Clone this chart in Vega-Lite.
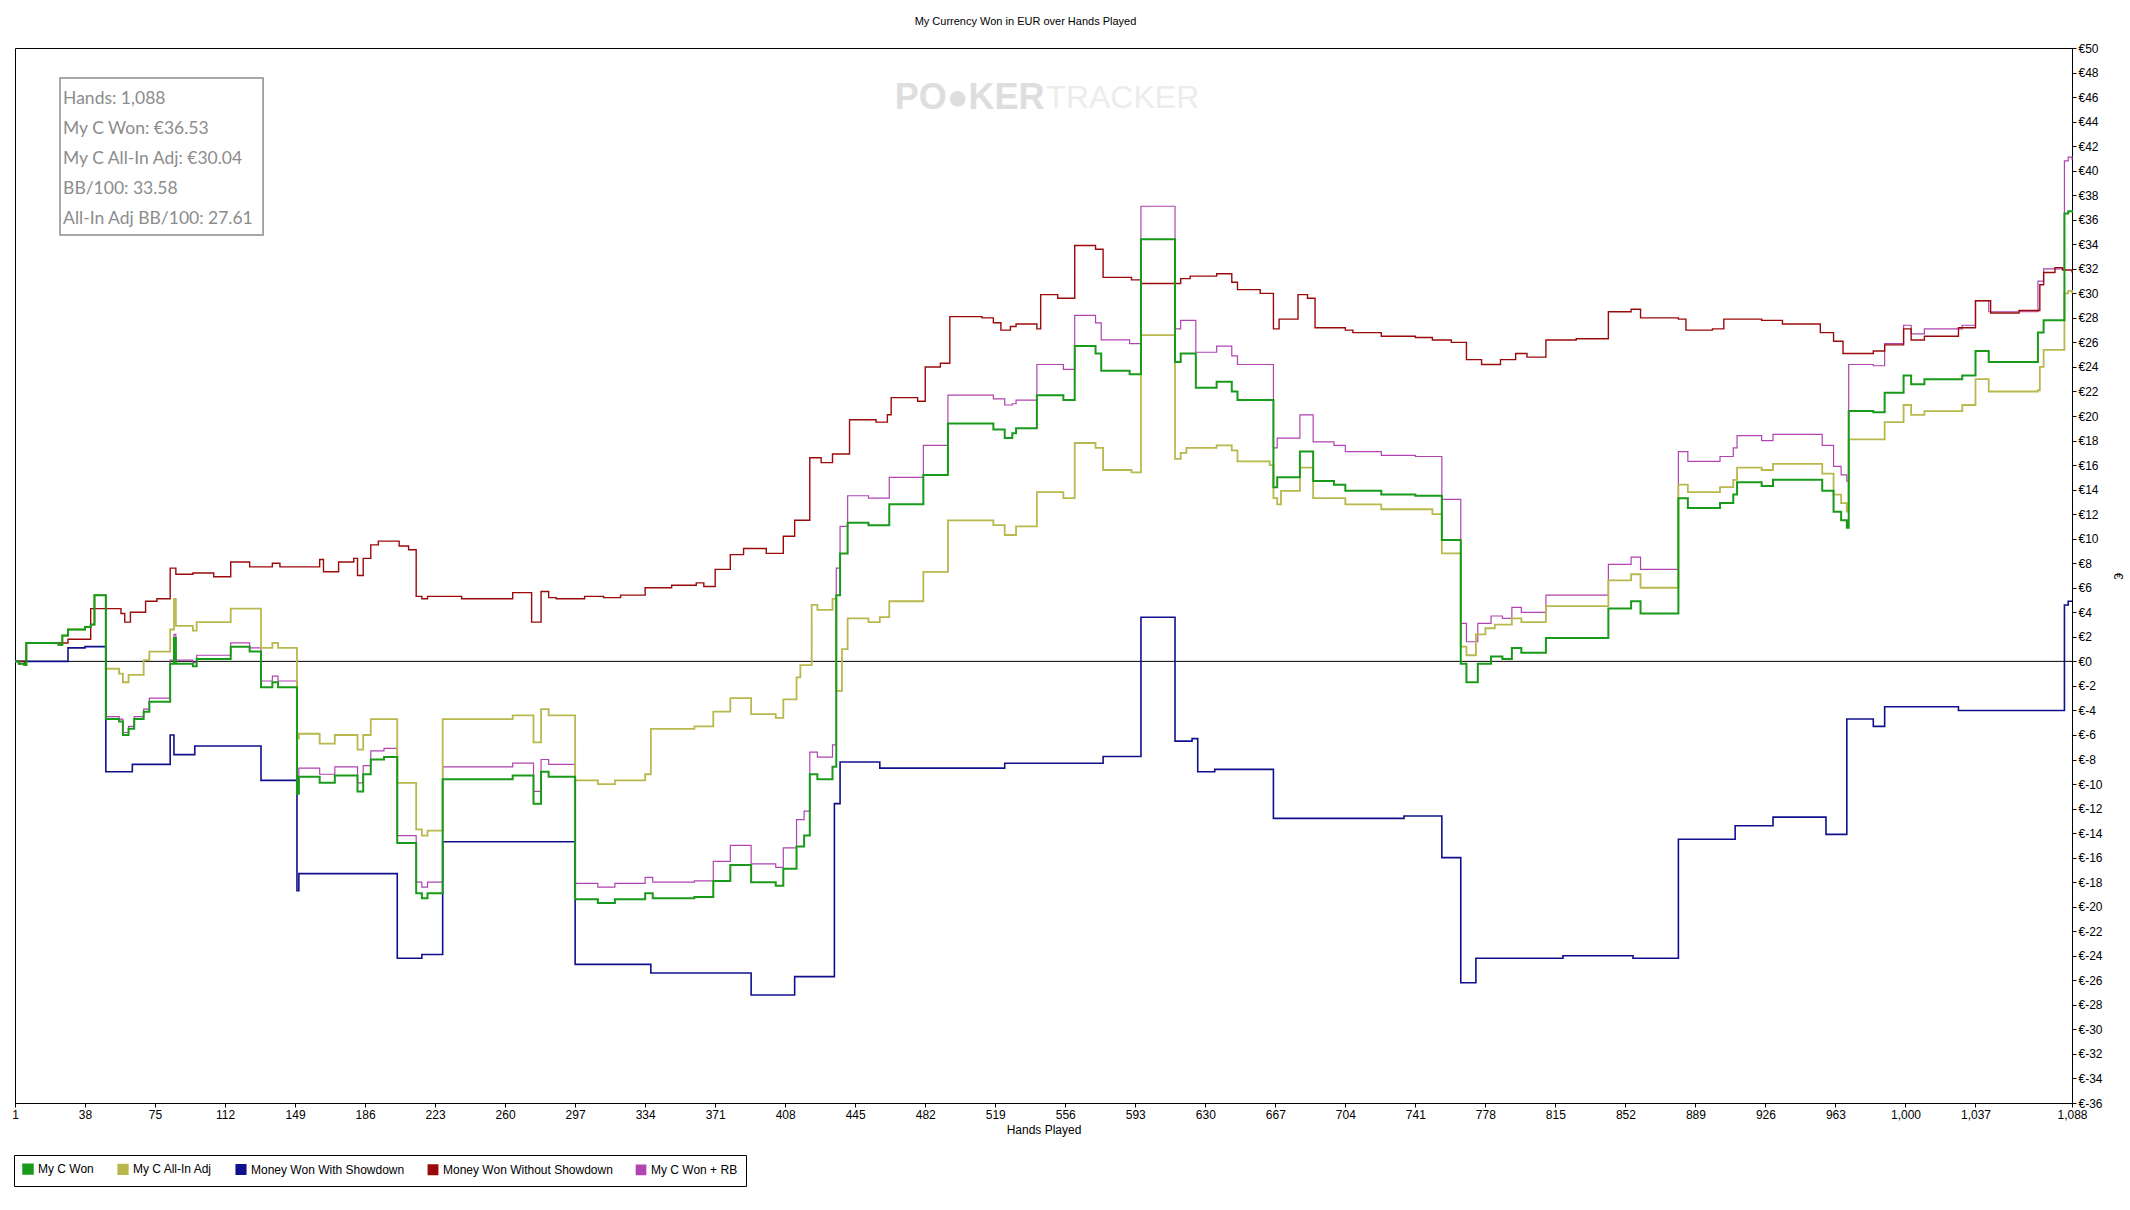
{
  "$schema": "https://vega.github.io/schema/vega-lite/v6.json",
  "width": 2057,
  "height": 1055,
  "autosize": {"type": "none"},
  "padding": {"left": 15, "top": 48, "right": 58, "bottom": 107},
  "background": "#ffffff",
  "title": {
    "text": "My Currency Won in EUR over Hands Played",
    "font": "Liberation Sans",
    "fontSize": 11,
    "fontWeight": "normal",
    "color": "#000000",
    "anchor": "middle",
    "frame": "group",
    "dx": -18,
    "offset": 15
  },
  "datasets": {
    "series": [
      {"series": "My C Won + RB", "hand": 1, "euro": 0},
      {"series": "My C Won + RB", "hand": 3, "euro": -0.2},
      {"series": "My C Won + RB", "hand": 6, "euro": -0.3},
      {"series": "My C Won + RB", "hand": 7, "euro": 1.5},
      {"series": "My C Won + RB", "hand": 24, "euro": 1.35},
      {"series": "My C Won + RB", "hand": 26, "euro": 2.1},
      {"series": "My C Won + RB", "hand": 29, "euro": 2.6},
      {"series": "My C Won + RB", "hand": 38, "euro": 2.8},
      {"series": "My C Won + RB", "hand": 41, "euro": 3.0},
      {"series": "My C Won + RB", "hand": 43, "euro": 5.4},
      {"series": "My C Won + RB", "hand": 49, "euro": -4.5},
      {"series": "My C Won + RB", "hand": 56, "euro": -4.7},
      {"series": "My C Won + RB", "hand": 58, "euro": -5.8},
      {"series": "My C Won + RB", "hand": 61, "euro": -5.3},
      {"series": "My C Won + RB", "hand": 64, "euro": -4.5},
      {"series": "My C Won + RB", "hand": 69, "euro": -3.9},
      {"series": "My C Won + RB", "hand": 72, "euro": -3.0},
      {"series": "My C Won + RB", "hand": 83, "euro": 0.1},
      {"series": "My C Won + RB", "hand": 85, "euro": 2.2},
      {"series": "My C Won + RB", "hand": 86, "euro": 0.1},
      {"series": "My C Won + RB", "hand": 95, "euro": -0.1},
      {"series": "My C Won + RB", "hand": 97, "euro": 0.5},
      {"series": "My C Won + RB", "hand": 115, "euro": 1.5},
      {"series": "My C Won + RB", "hand": 125, "euro": 1.1},
      {"series": "My C Won + RB", "hand": 131, "euro": -1.6},
      {"series": "My C Won + RB", "hand": 137, "euro": -1.2},
      {"series": "My C Won + RB", "hand": 140, "euro": -1.6},
      {"series": "My C Won + RB", "hand": 150, "euro": -10.2},
      {"series": "My C Won + RB", "hand": 151, "euro": -8.7},
      {"series": "My C Won + RB", "hand": 162, "euro": -9.2},
      {"series": "My C Won + RB", "hand": 170, "euro": -8.6},
      {"series": "My C Won + RB", "hand": 182, "euro": -9.9},
      {"series": "My C Won + RB", "hand": 185, "euro": -8.5},
      {"series": "My C Won + RB", "hand": 189, "euro": -7.3},
      {"series": "My C Won + RB", "hand": 196, "euro": -7.1},
      {"series": "My C Won + RB", "hand": 203, "euro": -14.2},
      {"series": "My C Won + RB", "hand": 213, "euro": -18.0},
      {"series": "My C Won + RB", "hand": 216, "euro": -18.4},
      {"series": "My C Won + RB", "hand": 219, "euro": -18.0},
      {"series": "My C Won + RB", "hand": 227, "euro": -8.6},
      {"series": "My C Won + RB", "hand": 264, "euro": -8.3},
      {"series": "My C Won + RB", "hand": 275, "euro": -10.6},
      {"series": "My C Won + RB", "hand": 279, "euro": -8.0},
      {"series": "My C Won + RB", "hand": 283, "euro": -8.4},
      {"series": "My C Won + RB", "hand": 297, "euro": -18.1},
      {"series": "My C Won + RB", "hand": 309, "euro": -18.4},
      {"series": "My C Won + RB", "hand": 318, "euro": -18.1},
      {"series": "My C Won + RB", "hand": 334, "euro": -17.6},
      {"series": "My C Won + RB", "hand": 338, "euro": -18.0},
      {"series": "My C Won + RB", "hand": 360, "euro": -17.9},
      {"series": "My C Won + RB", "hand": 370, "euro": -16.3},
      {"series": "My C Won + RB", "hand": 379, "euro": -15.0},
      {"series": "My C Won + RB", "hand": 390, "euro": -16.5},
      {"series": "My C Won + RB", "hand": 403, "euro": -16.8},
      {"series": "My C Won + RB", "hand": 407, "euro": -15.2},
      {"series": "My C Won + RB", "hand": 414, "euro": -12.9},
      {"series": "My C Won + RB", "hand": 418, "euro": -12.2},
      {"series": "My C Won + RB", "hand": 421, "euro": -7.4},
      {"series": "My C Won + RB", "hand": 425, "euro": -7.8},
      {"series": "My C Won + RB", "hand": 433, "euro": -6.8},
      {"series": "My C Won + RB", "hand": 435, "euro": 7.6},
      {"series": "My C Won + RB", "hand": 437, "euro": 11.0},
      {"series": "My C Won + RB", "hand": 441, "euro": 13.5},
      {"series": "My C Won + RB", "hand": 452, "euro": 13.3},
      {"series": "My C Won + RB", "hand": 463, "euro": 15.0},
      {"series": "My C Won + RB", "hand": 481, "euro": 17.6},
      {"series": "My C Won + RB", "hand": 494, "euro": 21.7},
      {"series": "My C Won + RB", "hand": 518, "euro": 21.4},
      {"series": "My C Won + RB", "hand": 524, "euro": 20.9},
      {"series": "My C Won + RB", "hand": 528, "euro": 21.0},
      {"series": "My C Won + RB", "hand": 530, "euro": 21.3},
      {"series": "My C Won + RB", "hand": 541, "euro": 24.2},
      {"series": "My C Won + RB", "hand": 555, "euro": 23.8},
      {"series": "My C Won + RB", "hand": 561, "euro": 28.2},
      {"series": "My C Won + RB", "hand": 572, "euro": 27.6},
      {"series": "My C Won + RB", "hand": 575, "euro": 26.2},
      {"series": "My C Won + RB", "hand": 590, "euro": 25.9},
      {"series": "My C Won + RB", "hand": 596, "euro": 37.1},
      {"series": "My C Won + RB", "hand": 614, "euro": 27.1},
      {"series": "My C Won + RB", "hand": 617, "euro": 27.8},
      {"series": "My C Won + RB", "hand": 625, "euro": 25.2},
      {"series": "My C Won + RB", "hand": 636, "euro": 25.7},
      {"series": "My C Won + RB", "hand": 644, "euro": 24.9},
      {"series": "My C Won + RB", "hand": 647, "euro": 24.2},
      {"series": "My C Won + RB", "hand": 666, "euro": 17.4},
      {"series": "My C Won + RB", "hand": 668, "euro": 18.2},
      {"series": "My C Won + RB", "hand": 680, "euro": 20.1},
      {"series": "My C Won + RB", "hand": 687, "euro": 17.9},
      {"series": "My C Won + RB", "hand": 698, "euro": 17.6},
      {"series": "My C Won + RB", "hand": 704, "euro": 17.1},
      {"series": "My C Won + RB", "hand": 723, "euro": 16.8},
      {"series": "My C Won + RB", "hand": 741, "euro": 16.7},
      {"series": "My C Won + RB", "hand": 755, "euro": 13.2},
      {"series": "My C Won + RB", "hand": 765, "euro": 3.1},
      {"series": "My C Won + RB", "hand": 768, "euro": 1.6},
      {"series": "My C Won + RB", "hand": 774, "euro": 3.1},
      {"series": "My C Won + RB", "hand": 781, "euro": 3.7},
      {"series": "My C Won + RB", "hand": 787, "euro": 3.5},
      {"series": "My C Won + RB", "hand": 792, "euro": 4.4},
      {"series": "My C Won + RB", "hand": 797, "euro": 4.0},
      {"series": "My C Won + RB", "hand": 810, "euro": 5.4},
      {"series": "My C Won + RB", "hand": 843, "euro": 7.9},
      {"series": "My C Won + RB", "hand": 855, "euro": 8.5},
      {"series": "My C Won + RB", "hand": 860, "euro": 7.5},
      {"series": "My C Won + RB", "hand": 880, "euro": 17.1},
      {"series": "My C Won + RB", "hand": 885, "euro": 16.3},
      {"series": "My C Won + RB", "hand": 902, "euro": 16.7},
      {"series": "My C Won + RB", "hand": 909, "euro": 17.4},
      {"series": "My C Won + RB", "hand": 911, "euro": 18.4},
      {"series": "My C Won + RB", "hand": 924, "euro": 18.0},
      {"series": "My C Won + RB", "hand": 930, "euro": 18.5},
      {"series": "My C Won + RB", "hand": 956, "euro": 17.6},
      {"series": "My C Won + RB", "hand": 962, "euro": 15.9},
      {"series": "My C Won + RB", "hand": 966, "euro": 15.2},
      {"series": "My C Won + RB", "hand": 969, "euro": 14.7},
      {"series": "My C Won + RB", "hand": 970, "euro": 24.2},
      {"series": "My C Won + RB", "hand": 983, "euro": 24.1},
      {"series": "My C Won + RB", "hand": 989, "euro": 25.9},
      {"series": "My C Won + RB", "hand": 999, "euro": 27.4},
      {"series": "My C Won + RB", "hand": 1003, "euro": 26.7},
      {"series": "My C Won + RB", "hand": 1010, "euro": 27.1},
      {"series": "My C Won + RB", "hand": 1030, "euro": 27.4},
      {"series": "My C Won + RB", "hand": 1037, "euro": 29.4},
      {"series": "My C Won + RB", "hand": 1044, "euro": 28.5},
      {"series": "My C Won + RB", "hand": 1070, "euro": 31.0},
      {"series": "My C Won + RB", "hand": 1073, "euro": 32.0},
      {"series": "My C Won + RB", "hand": 1084, "euro": 40.8},
      {"series": "My C Won + RB", "hand": 1086, "euro": 41.1},
      {"series": "My C Won + RB", "hand": 1088, "euro": 40.9},

      {"series": "My C All-In Adj", "hand": 1, "euro": 0},
      {"series": "My C All-In Adj", "hand": 3, "euro": -0.2},
      {"series": "My C All-In Adj", "hand": 6, "euro": -0.3},
      {"series": "My C All-In Adj", "hand": 7, "euro": 1.5},
      {"series": "My C All-In Adj", "hand": 24, "euro": 1.35},
      {"series": "My C All-In Adj", "hand": 26, "euro": 2.1},
      {"series": "My C All-In Adj", "hand": 29, "euro": 2.6},
      {"series": "My C All-In Adj", "hand": 38, "euro": 2.8},
      {"series": "My C All-In Adj", "hand": 41, "euro": 3.0},
      {"series": "My C All-In Adj", "hand": 43, "euro": 5.4},
      {"series": "My C All-In Adj", "hand": 49, "euro": -0.6},
      {"series": "My C All-In Adj", "hand": 56, "euro": -1.0},
      {"series": "My C All-In Adj", "hand": 58, "euro": -1.7},
      {"series": "My C All-In Adj", "hand": 61, "euro": -1.1},
      {"series": "My C All-In Adj", "hand": 69, "euro": 0.1},
      {"series": "My C All-In Adj", "hand": 72, "euro": 0.8},
      {"series": "My C All-In Adj", "hand": 83, "euro": 2.6},
      {"series": "My C All-In Adj", "hand": 85, "euro": 5.1},
      {"series": "My C All-In Adj", "hand": 86, "euro": 2.9},
      {"series": "My C All-In Adj", "hand": 95, "euro": 2.5},
      {"series": "My C All-In Adj", "hand": 97, "euro": 3.2},
      {"series": "My C All-In Adj", "hand": 115, "euro": 4.3},
      {"series": "My C All-In Adj", "hand": 131, "euro": 1.1},
      {"series": "My C All-In Adj", "hand": 137, "euro": 1.5},
      {"series": "My C All-In Adj", "hand": 140, "euro": 1.1},
      {"series": "My C All-In Adj", "hand": 150, "euro": -6.3},
      {"series": "My C All-In Adj", "hand": 151, "euro": -5.9},
      {"series": "My C All-In Adj", "hand": 162, "euro": -6.7},
      {"series": "My C All-In Adj", "hand": 170, "euro": -6.0},
      {"series": "My C All-In Adj", "hand": 182, "euro": -7.2},
      {"series": "My C All-In Adj", "hand": 185, "euro": -6.0},
      {"series": "My C All-In Adj", "hand": 189, "euro": -4.7},
      {"series": "My C All-In Adj", "hand": 203, "euro": -9.9},
      {"series": "My C All-In Adj", "hand": 213, "euro": -13.7},
      {"series": "My C All-In Adj", "hand": 216, "euro": -14.2},
      {"series": "My C All-In Adj", "hand": 219, "euro": -13.8},
      {"series": "My C All-In Adj", "hand": 227, "euro": -4.7},
      {"series": "My C All-In Adj", "hand": 264, "euro": -4.4},
      {"series": "My C All-In Adj", "hand": 275, "euro": -6.6},
      {"series": "My C All-In Adj", "hand": 279, "euro": -3.9},
      {"series": "My C All-In Adj", "hand": 283, "euro": -4.4},
      {"series": "My C All-In Adj", "hand": 297, "euro": -9.7},
      {"series": "My C All-In Adj", "hand": 309, "euro": -10.0},
      {"series": "My C All-In Adj", "hand": 318, "euro": -9.7},
      {"series": "My C All-In Adj", "hand": 334, "euro": -9.2},
      {"series": "My C All-In Adj", "hand": 337, "euro": -5.5},
      {"series": "My C All-In Adj", "hand": 360, "euro": -5.3},
      {"series": "My C All-In Adj", "hand": 370, "euro": -4.1},
      {"series": "My C All-In Adj", "hand": 379, "euro": -3.0},
      {"series": "My C All-In Adj", "hand": 390, "euro": -4.3},
      {"series": "My C All-In Adj", "hand": 403, "euro": -4.6},
      {"series": "My C All-In Adj", "hand": 407, "euro": -3.1},
      {"series": "My C All-In Adj", "hand": 414, "euro": -1.3},
      {"series": "My C All-In Adj", "hand": 416, "euro": -0.3},
      {"series": "My C All-In Adj", "hand": 422, "euro": 4.6},
      {"series": "My C All-In Adj", "hand": 425, "euro": 4.2},
      {"series": "My C All-In Adj", "hand": 433, "euro": 5.1},
      {"series": "My C All-In Adj", "hand": 435, "euro": -2.4},
      {"series": "My C All-In Adj", "hand": 438, "euro": 1.0},
      {"series": "My C All-In Adj", "hand": 441, "euro": 3.5},
      {"series": "My C All-In Adj", "hand": 452, "euro": 3.2},
      {"series": "My C All-In Adj", "hand": 458, "euro": 3.6},
      {"series": "My C All-In Adj", "hand": 463, "euro": 4.9},
      {"series": "My C All-In Adj", "hand": 481, "euro": 7.3},
      {"series": "My C All-In Adj", "hand": 494, "euro": 11.5},
      {"series": "My C All-In Adj", "hand": 518, "euro": 11.1},
      {"series": "My C All-In Adj", "hand": 524, "euro": 10.3},
      {"series": "My C All-In Adj", "hand": 530, "euro": 11.0},
      {"series": "My C All-In Adj", "hand": 541, "euro": 13.8},
      {"series": "My C All-In Adj", "hand": 555, "euro": 13.3},
      {"series": "My C All-In Adj", "hand": 561, "euro": 17.8},
      {"series": "My C All-In Adj", "hand": 572, "euro": 17.4},
      {"series": "My C All-In Adj", "hand": 576, "euro": 15.6},
      {"series": "My C All-In Adj", "hand": 591, "euro": 15.4},
      {"series": "My C All-In Adj", "hand": 596, "euro": 26.6},
      {"series": "My C All-In Adj", "hand": 614, "euro": 16.5},
      {"series": "My C All-In Adj", "hand": 617, "euro": 17.0},
      {"series": "My C All-In Adj", "hand": 620, "euro": 17.4},
      {"series": "My C All-In Adj", "hand": 636, "euro": 17.6},
      {"series": "My C All-In Adj", "hand": 644, "euro": 17.2},
      {"series": "My C All-In Adj", "hand": 647, "euro": 16.3},
      {"series": "My C All-In Adj", "hand": 664, "euro": 16.0},
      {"series": "My C All-In Adj", "hand": 666, "euro": 13.3},
      {"series": "My C All-In Adj", "hand": 668, "euro": 12.8},
      {"series": "My C All-In Adj", "hand": 670, "euro": 13.9},
      {"series": "My C All-In Adj", "hand": 680, "euro": 15.8},
      {"series": "My C All-In Adj", "hand": 687, "euro": 13.3},
      {"series": "My C All-In Adj", "hand": 704, "euro": 12.8},
      {"series": "My C All-In Adj", "hand": 723, "euro": 12.4},
      {"series": "My C All-In Adj", "hand": 750, "euro": 12.0},
      {"series": "My C All-In Adj", "hand": 755, "euro": 8.8},
      {"series": "My C All-In Adj", "hand": 765, "euro": 1.2},
      {"series": "My C All-In Adj", "hand": 768, "euro": 0.5},
      {"series": "My C All-In Adj", "hand": 773, "euro": 2.2},
      {"series": "My C All-In Adj", "hand": 778, "euro": 2.7},
      {"series": "My C All-In Adj", "hand": 783, "euro": 3.0},
      {"series": "My C All-In Adj", "hand": 792, "euro": 3.5},
      {"series": "My C All-In Adj", "hand": 797, "euro": 3.2},
      {"series": "My C All-In Adj", "hand": 810, "euro": 4.5},
      {"series": "My C All-In Adj", "hand": 843, "euro": 6.6},
      {"series": "My C All-In Adj", "hand": 855, "euro": 7.1},
      {"series": "My C All-In Adj", "hand": 860, "euro": 6.0},
      {"series": "My C All-In Adj", "hand": 880, "euro": 14.4},
      {"series": "My C All-In Adj", "hand": 885, "euro": 13.8},
      {"series": "My C All-In Adj", "hand": 902, "euro": 14.2},
      {"series": "My C All-In Adj", "hand": 909, "euro": 14.8},
      {"series": "My C All-In Adj", "hand": 911, "euro": 15.8},
      {"series": "My C All-In Adj", "hand": 924, "euro": 15.6},
      {"series": "My C All-In Adj", "hand": 930, "euro": 16.1},
      {"series": "My C All-In Adj", "hand": 956, "euro": 15.3},
      {"series": "My C All-In Adj", "hand": 962, "euro": 13.6},
      {"series": "My C All-In Adj", "hand": 966, "euro": 12.9},
      {"series": "My C All-In Adj", "hand": 969, "euro": 12.2},
      {"series": "My C All-In Adj", "hand": 970, "euro": 18.1},
      {"series": "My C All-In Adj", "hand": 989, "euro": 19.5},
      {"series": "My C All-In Adj", "hand": 999, "euro": 20.9},
      {"series": "My C All-In Adj", "hand": 1003, "euro": 20.1},
      {"series": "My C All-In Adj", "hand": 1010, "euro": 20.4},
      {"series": "My C All-In Adj", "hand": 1030, "euro": 20.9},
      {"series": "My C All-In Adj", "hand": 1037, "euro": 23.0},
      {"series": "My C All-In Adj", "hand": 1044, "euro": 22.0},
      {"series": "My C All-In Adj", "hand": 1070, "euro": 22.1},
      {"series": "My C All-In Adj", "hand": 1071, "euro": 24.0},
      {"series": "My C All-In Adj", "hand": 1073, "euro": 25.4},
      {"series": "My C All-In Adj", "hand": 1084, "euro": 30.0},
      {"series": "My C All-In Adj", "hand": 1086, "euro": 30.2},
      {"series": "My C All-In Adj", "hand": 1088, "euro": 30.0},

      {"series": "Money Won With Showdown", "hand": 1, "euro": 0},
      {"series": "Money Won With Showdown", "hand": 29, "euro": 1.1},
      {"series": "Money Won With Showdown", "hand": 38, "euro": 1.2},
      {"series": "Money Won With Showdown", "hand": 49, "euro": -9.0},
      {"series": "Money Won With Showdown", "hand": 63, "euro": -8.4},
      {"series": "Money Won With Showdown", "hand": 83, "euro": -6.0},
      {"series": "Money Won With Showdown", "hand": 85, "euro": -7.6},
      {"series": "Money Won With Showdown", "hand": 96, "euro": -6.9},
      {"series": "Money Won With Showdown", "hand": 131, "euro": -9.7},
      {"series": "Money Won With Showdown", "hand": 150, "euro": -18.7},
      {"series": "Money Won With Showdown", "hand": 151, "euro": -17.3},
      {"series": "Money Won With Showdown", "hand": 203, "euro": -24.2},
      {"series": "Money Won With Showdown", "hand": 216, "euro": -23.9},
      {"series": "Money Won With Showdown", "hand": 227, "euro": -14.7},
      {"series": "Money Won With Showdown", "hand": 297, "euro": -24.7},
      {"series": "Money Won With Showdown", "hand": 337, "euro": -25.4},
      {"series": "Money Won With Showdown", "hand": 390, "euro": -27.2},
      {"series": "Money Won With Showdown", "hand": 413, "euro": -25.7},
      {"series": "Money Won With Showdown", "hand": 434, "euro": -11.6},
      {"series": "Money Won With Showdown", "hand": 437, "euro": -8.2},
      {"series": "Money Won With Showdown", "hand": 458, "euro": -8.7},
      {"series": "Money Won With Showdown", "hand": 524, "euro": -8.3},
      {"series": "Money Won With Showdown", "hand": 576, "euro": -7.75},
      {"series": "Money Won With Showdown", "hand": 596, "euro": 3.6},
      {"series": "Money Won With Showdown", "hand": 614, "euro": -6.5},
      {"series": "Money Won With Showdown", "hand": 623, "euro": -6.3},
      {"series": "Money Won With Showdown", "hand": 626, "euro": -9.0},
      {"series": "Money Won With Showdown", "hand": 635, "euro": -8.8},
      {"series": "Money Won With Showdown", "hand": 666, "euro": -12.8},
      {"series": "Money Won With Showdown", "hand": 735, "euro": -12.6},
      {"series": "Money Won With Showdown", "hand": 755, "euro": -16.0},
      {"series": "Money Won With Showdown", "hand": 765, "euro": -26.2},
      {"series": "Money Won With Showdown", "hand": 773, "euro": -24.2},
      {"series": "Money Won With Showdown", "hand": 819, "euro": -24.0},
      {"series": "Money Won With Showdown", "hand": 856, "euro": -24.2},
      {"series": "Money Won With Showdown", "hand": 880, "euro": -14.5},
      {"series": "Money Won With Showdown", "hand": 910, "euro": -13.4},
      {"series": "Money Won With Showdown", "hand": 930, "euro": -12.7},
      {"series": "Money Won With Showdown", "hand": 958, "euro": -14.1},
      {"series": "Money Won With Showdown", "hand": 969, "euro": -4.7},
      {"series": "Money Won With Showdown", "hand": 983, "euro": -5.3},
      {"series": "Money Won With Showdown", "hand": 989, "euro": -3.7},
      {"series": "Money Won With Showdown", "hand": 1028, "euro": -4.0},
      {"series": "Money Won With Showdown", "hand": 1084, "euro": 4.6},
      {"series": "Money Won With Showdown", "hand": 1086, "euro": 4.9},
      {"series": "Money Won With Showdown", "hand": 1088, "euro": 4.9},

      {"series": "Money Won Without Showdown", "hand": 1, "euro": 0},
      {"series": "Money Won Without Showdown", "hand": 6, "euro": -0.3},
      {"series": "Money Won Without Showdown", "hand": 7, "euro": 1.5},
      {"series": "Money Won Without Showdown", "hand": 29, "euro": 1.8},
      {"series": "Money Won Without Showdown", "hand": 41, "euro": 4.3},
      {"series": "Money Won Without Showdown", "hand": 57, "euro": 3.9},
      {"series": "Money Won Without Showdown", "hand": 59, "euro": 3.2},
      {"series": "Money Won Without Showdown", "hand": 62, "euro": 4.0},
      {"series": "Money Won Without Showdown", "hand": 70, "euro": 4.9},
      {"series": "Money Won Without Showdown", "hand": 76, "euro": 5.1},
      {"series": "Money Won Without Showdown", "hand": 83, "euro": 7.6},
      {"series": "Money Won Without Showdown", "hand": 86, "euro": 7.1},
      {"series": "Money Won Without Showdown", "hand": 95, "euro": 7.2},
      {"series": "Money Won Without Showdown", "hand": 106, "euro": 6.9},
      {"series": "Money Won Without Showdown", "hand": 115, "euro": 8.1},
      {"series": "Money Won Without Showdown", "hand": 125, "euro": 7.7},
      {"series": "Money Won Without Showdown", "hand": 137, "euro": 8.0},
      {"series": "Money Won Without Showdown", "hand": 141, "euro": 7.7},
      {"series": "Money Won Without Showdown", "hand": 162, "euro": 8.3},
      {"series": "Money Won Without Showdown", "hand": 164, "euro": 7.3},
      {"series": "Money Won Without Showdown", "hand": 172, "euro": 8.1},
      {"series": "Money Won Without Showdown", "hand": 180, "euro": 8.4},
      {"series": "Money Won Without Showdown", "hand": 182, "euro": 7.0},
      {"series": "Money Won Without Showdown", "hand": 185, "euro": 8.4},
      {"series": "Money Won Without Showdown", "hand": 189, "euro": 9.5},
      {"series": "Money Won Without Showdown", "hand": 193, "euro": 9.8},
      {"series": "Money Won Without Showdown", "hand": 204, "euro": 9.4},
      {"series": "Money Won Without Showdown", "hand": 209, "euro": 9.1},
      {"series": "Money Won Without Showdown", "hand": 213, "euro": 5.3},
      {"series": "Money Won Without Showdown", "hand": 216, "euro": 5.1},
      {"series": "Money Won Without Showdown", "hand": 219, "euro": 5.3},
      {"series": "Money Won Without Showdown", "hand": 237, "euro": 5.1},
      {"series": "Money Won Without Showdown", "hand": 264, "euro": 5.6},
      {"series": "Money Won Without Showdown", "hand": 274, "euro": 3.2},
      {"series": "Money Won Without Showdown", "hand": 279, "euro": 5.7},
      {"series": "Money Won Without Showdown", "hand": 283, "euro": 5.2},
      {"series": "Money Won Without Showdown", "hand": 287, "euro": 5.1},
      {"series": "Money Won Without Showdown", "hand": 302, "euro": 5.3},
      {"series": "Money Won Without Showdown", "hand": 312, "euro": 5.2},
      {"series": "Money Won Without Showdown", "hand": 321, "euro": 5.4},
      {"series": "Money Won Without Showdown", "hand": 334, "euro": 6.0},
      {"series": "Money Won Without Showdown", "hand": 348, "euro": 6.2},
      {"series": "Money Won Without Showdown", "hand": 361, "euro": 6.4},
      {"series": "Money Won Without Showdown", "hand": 365, "euro": 6.1},
      {"series": "Money Won Without Showdown", "hand": 371, "euro": 7.5},
      {"series": "Money Won Without Showdown", "hand": 379, "euro": 8.7},
      {"series": "Money Won Without Showdown", "hand": 386, "euro": 9.2},
      {"series": "Money Won Without Showdown", "hand": 398, "euro": 8.8},
      {"series": "Money Won Without Showdown", "hand": 407, "euro": 10.2},
      {"series": "Money Won Without Showdown", "hand": 413, "euro": 11.5},
      {"series": "Money Won Without Showdown", "hand": 421, "euro": 16.6},
      {"series": "Money Won Without Showdown", "hand": 427, "euro": 16.2},
      {"series": "Money Won Without Showdown", "hand": 433, "euro": 16.9},
      {"series": "Money Won Without Showdown", "hand": 442, "euro": 19.7},
      {"series": "Money Won Without Showdown", "hand": 456, "euro": 19.5},
      {"series": "Money Won Without Showdown", "hand": 462, "euro": 20.1},
      {"series": "Money Won Without Showdown", "hand": 464, "euro": 21.5},
      {"series": "Money Won Without Showdown", "hand": 478, "euro": 21.2},
      {"series": "Money Won Without Showdown", "hand": 482, "euro": 24.0},
      {"series": "Money Won Without Showdown", "hand": 490, "euro": 24.3},
      {"series": "Money Won Without Showdown", "hand": 495, "euro": 28.1},
      {"series": "Money Won Without Showdown", "hand": 512, "euro": 28.0},
      {"series": "Money Won Without Showdown", "hand": 518, "euro": 27.6},
      {"series": "Money Won Without Showdown", "hand": 522, "euro": 27.0},
      {"series": "Money Won Without Showdown", "hand": 527, "euro": 27.3},
      {"series": "Money Won Without Showdown", "hand": 530, "euro": 27.5},
      {"series": "Money Won Without Showdown", "hand": 541, "euro": 27.1},
      {"series": "Money Won Without Showdown", "hand": 543, "euro": 29.9},
      {"series": "Money Won Without Showdown", "hand": 552, "euro": 29.6},
      {"series": "Money Won Without Showdown", "hand": 561, "euro": 33.9},
      {"series": "Money Won Without Showdown", "hand": 572, "euro": 33.6},
      {"series": "Money Won Without Showdown", "hand": 576, "euro": 31.3},
      {"series": "Money Won Without Showdown", "hand": 591, "euro": 31.1},
      {"series": "Money Won Without Showdown", "hand": 596, "euro": 30.8},
      {"series": "Money Won Without Showdown", "hand": 617, "euro": 31.2},
      {"series": "Money Won Without Showdown", "hand": 622, "euro": 31.4},
      {"series": "Money Won Without Showdown", "hand": 636, "euro": 31.6},
      {"series": "Money Won Without Showdown", "hand": 644, "euro": 30.9},
      {"series": "Money Won Without Showdown", "hand": 647, "euro": 30.3},
      {"series": "Money Won Without Showdown", "hand": 659, "euro": 30.0},
      {"series": "Money Won Without Showdown", "hand": 666, "euro": 27.1},
      {"series": "Money Won Without Showdown", "hand": 669, "euro": 27.9},
      {"series": "Money Won Without Showdown", "hand": 679, "euro": 29.9},
      {"series": "Money Won Without Showdown", "hand": 684, "euro": 29.6},
      {"series": "Money Won Without Showdown", "hand": 688, "euro": 27.2},
      {"series": "Money Won Without Showdown", "hand": 704, "euro": 27.0},
      {"series": "Money Won Without Showdown", "hand": 708, "euro": 26.8},
      {"series": "Money Won Without Showdown", "hand": 723, "euro": 26.5},
      {"series": "Money Won Without Showdown", "hand": 741, "euro": 26.4},
      {"series": "Money Won Without Showdown", "hand": 750, "euro": 26.2},
      {"series": "Money Won Without Showdown", "hand": 760, "euro": 26.0},
      {"series": "Money Won Without Showdown", "hand": 768, "euro": 24.6},
      {"series": "Money Won Without Showdown", "hand": 776, "euro": 24.2},
      {"series": "Money Won Without Showdown", "hand": 786, "euro": 24.6},
      {"series": "Money Won Without Showdown", "hand": 794, "euro": 25.1},
      {"series": "Money Won Without Showdown", "hand": 800, "euro": 24.8},
      {"series": "Money Won Without Showdown", "hand": 810, "euro": 26.2},
      {"series": "Money Won Without Showdown", "hand": 826, "euro": 26.3},
      {"series": "Money Won Without Showdown", "hand": 843, "euro": 28.5},
      {"series": "Money Won Without Showdown", "hand": 855, "euro": 28.7},
      {"series": "Money Won Without Showdown", "hand": 860, "euro": 28.0},
      {"series": "Money Won Without Showdown", "hand": 880, "euro": 27.9},
      {"series": "Money Won Without Showdown", "hand": 884, "euro": 27.0},
      {"series": "Money Won Without Showdown", "hand": 898, "euro": 27.1},
      {"series": "Money Won Without Showdown", "hand": 904, "euro": 27.9},
      {"series": "Money Won Without Showdown", "hand": 924, "euro": 27.8},
      {"series": "Money Won Without Showdown", "hand": 935, "euro": 27.5},
      {"series": "Money Won Without Showdown", "hand": 955, "euro": 26.8},
      {"series": "Money Won Without Showdown", "hand": 962, "euro": 26.1},
      {"series": "Money Won Without Showdown", "hand": 967, "euro": 25.1},
      {"series": "Money Won Without Showdown", "hand": 983, "euro": 25.3},
      {"series": "Money Won Without Showdown", "hand": 989, "euro": 25.8},
      {"series": "Money Won Without Showdown", "hand": 999, "euro": 27.1},
      {"series": "Money Won Without Showdown", "hand": 1003, "euro": 26.2},
      {"series": "Money Won Without Showdown", "hand": 1010, "euro": 26.5},
      {"series": "Money Won Without Showdown", "hand": 1028, "euro": 27.2},
      {"series": "Money Won Without Showdown", "hand": 1037, "euro": 29.4},
      {"series": "Money Won Without Showdown", "hand": 1045, "euro": 28.4},
      {"series": "Money Won Without Showdown", "hand": 1060, "euro": 28.6},
      {"series": "Money Won Without Showdown", "hand": 1071, "euro": 30.7},
      {"series": "Money Won Without Showdown", "hand": 1073, "euro": 31.7},
      {"series": "Money Won Without Showdown", "hand": 1079, "euro": 32.1},
      {"series": "Money Won Without Showdown", "hand": 1083, "euro": 31.9},
      {"series": "Money Won Without Showdown", "hand": 1088, "euro": 31.7},

      {"series": "My C Won", "hand": 1, "euro": 0},
      {"series": "My C Won", "hand": 3, "euro": -0.2},
      {"series": "My C Won", "hand": 6, "euro": -0.3},
      {"series": "My C Won", "hand": 7, "euro": 1.5},
      {"series": "My C Won", "hand": 24, "euro": 1.35},
      {"series": "My C Won", "hand": 26, "euro": 2.1},
      {"series": "My C Won", "hand": 29, "euro": 2.6},
      {"series": "My C Won", "hand": 38, "euro": 2.8},
      {"series": "My C Won", "hand": 41, "euro": 3.0},
      {"series": "My C Won", "hand": 43, "euro": 5.4},
      {"series": "My C Won", "hand": 49, "euro": -4.7},
      {"series": "My C Won", "hand": 56, "euro": -4.9},
      {"series": "My C Won", "hand": 58, "euro": -6.0},
      {"series": "My C Won", "hand": 61, "euro": -5.5},
      {"series": "My C Won", "hand": 64, "euro": -4.7},
      {"series": "My C Won", "hand": 69, "euro": -4.1},
      {"series": "My C Won", "hand": 72, "euro": -3.3},
      {"series": "My C Won", "hand": 83, "euro": -0.2},
      {"series": "My C Won", "hand": 85, "euro": 1.9},
      {"series": "My C Won", "hand": 86, "euro": -0.2},
      {"series": "My C Won", "hand": 95, "euro": -0.4},
      {"series": "My C Won", "hand": 97, "euro": 0.2},
      {"series": "My C Won", "hand": 115, "euro": 1.2},
      {"series": "My C Won", "hand": 125, "euro": 0.8},
      {"series": "My C Won", "hand": 131, "euro": -2.1},
      {"series": "My C Won", "hand": 137, "euro": -1.7},
      {"series": "My C Won", "hand": 140, "euro": -2.1},
      {"series": "My C Won", "hand": 150, "euro": -10.8},
      {"series": "My C Won", "hand": 151, "euro": -9.4},
      {"series": "My C Won", "hand": 162, "euro": -9.9},
      {"series": "My C Won", "hand": 170, "euro": -9.3},
      {"series": "My C Won", "hand": 182, "euro": -10.6},
      {"series": "My C Won", "hand": 185, "euro": -9.2},
      {"series": "My C Won", "hand": 189, "euro": -8.0},
      {"series": "My C Won", "hand": 196, "euro": -7.8},
      {"series": "My C Won", "hand": 203, "euro": -14.8},
      {"series": "My C Won", "hand": 213, "euro": -18.9},
      {"series": "My C Won", "hand": 216, "euro": -19.3},
      {"series": "My C Won", "hand": 219, "euro": -18.9},
      {"series": "My C Won", "hand": 227, "euro": -9.6},
      {"series": "My C Won", "hand": 264, "euro": -9.3},
      {"series": "My C Won", "hand": 275, "euro": -11.6},
      {"series": "My C Won", "hand": 279, "euro": -9.0},
      {"series": "My C Won", "hand": 283, "euro": -9.4},
      {"series": "My C Won", "hand": 297, "euro": -19.4},
      {"series": "My C Won", "hand": 309, "euro": -19.7},
      {"series": "My C Won", "hand": 318, "euro": -19.4},
      {"series": "My C Won", "hand": 334, "euro": -18.9},
      {"series": "My C Won", "hand": 338, "euro": -19.3},
      {"series": "My C Won", "hand": 360, "euro": -19.2},
      {"series": "My C Won", "hand": 370, "euro": -17.9},
      {"series": "My C Won", "hand": 379, "euro": -16.6},
      {"series": "My C Won", "hand": 390, "euro": -18.0},
      {"series": "My C Won", "hand": 403, "euro": -18.3},
      {"series": "My C Won", "hand": 407, "euro": -16.9},
      {"series": "My C Won", "hand": 414, "euro": -15.1},
      {"series": "My C Won", "hand": 418, "euro": -14.2},
      {"series": "My C Won", "hand": 421, "euro": -9.2},
      {"series": "My C Won", "hand": 425, "euro": -9.6},
      {"series": "My C Won", "hand": 433, "euro": -8.6},
      {"series": "My C Won", "hand": 435, "euro": 5.4},
      {"series": "My C Won", "hand": 437, "euro": 8.8},
      {"series": "My C Won", "hand": 441, "euro": 11.3},
      {"series": "My C Won", "hand": 452, "euro": 11.1},
      {"series": "My C Won", "hand": 463, "euro": 12.8},
      {"series": "My C Won", "hand": 481, "euro": 15.2},
      {"series": "My C Won", "hand": 494, "euro": 19.4},
      {"series": "My C Won", "hand": 518, "euro": 18.9},
      {"series": "My C Won", "hand": 524, "euro": 18.2},
      {"series": "My C Won", "hand": 528, "euro": 18.6},
      {"series": "My C Won", "hand": 530, "euro": 19.0},
      {"series": "My C Won", "hand": 541, "euro": 21.7},
      {"series": "My C Won", "hand": 555, "euro": 21.3},
      {"series": "My C Won", "hand": 561, "euro": 25.7},
      {"series": "My C Won", "hand": 572, "euro": 25.1},
      {"series": "My C Won", "hand": 575, "euro": 23.7},
      {"series": "My C Won", "hand": 590, "euro": 23.4},
      {"series": "My C Won", "hand": 596, "euro": 34.4},
      {"series": "My C Won", "hand": 614, "euro": 24.4},
      {"series": "My C Won", "hand": 617, "euro": 25.1},
      {"series": "My C Won", "hand": 625, "euro": 22.3},
      {"series": "My C Won", "hand": 636, "euro": 22.8},
      {"series": "My C Won", "hand": 644, "euro": 22.0},
      {"series": "My C Won", "hand": 647, "euro": 21.3},
      {"series": "My C Won", "hand": 666, "euro": 14.2},
      {"series": "My C Won", "hand": 668, "euro": 15.0},
      {"series": "My C Won", "hand": 680, "euro": 17.1},
      {"series": "My C Won", "hand": 687, "euro": 14.7},
      {"series": "My C Won", "hand": 698, "euro": 14.4},
      {"series": "My C Won", "hand": 704, "euro": 13.9},
      {"series": "My C Won", "hand": 723, "euro": 13.6},
      {"series": "My C Won", "hand": 741, "euro": 13.5},
      {"series": "My C Won", "hand": 755, "euro": 9.9},
      {"series": "My C Won", "hand": 765, "euro": -0.2},
      {"series": "My C Won", "hand": 768, "euro": -1.7},
      {"series": "My C Won", "hand": 774, "euro": -0.2},
      {"series": "My C Won", "hand": 781, "euro": 0.4},
      {"series": "My C Won", "hand": 787, "euro": 0.2},
      {"series": "My C Won", "hand": 792, "euro": 1.1},
      {"series": "My C Won", "hand": 797, "euro": 0.7},
      {"series": "My C Won", "hand": 810, "euro": 1.9},
      {"series": "My C Won", "hand": 843, "euro": 4.3},
      {"series": "My C Won", "hand": 855, "euro": 4.9},
      {"series": "My C Won", "hand": 860, "euro": 3.9},
      {"series": "My C Won", "hand": 880, "euro": 13.3},
      {"series": "My C Won", "hand": 885, "euro": 12.5},
      {"series": "My C Won", "hand": 902, "euro": 12.9},
      {"series": "My C Won", "hand": 909, "euro": 13.6},
      {"series": "My C Won", "hand": 911, "euro": 14.6},
      {"series": "My C Won", "hand": 924, "euro": 14.3},
      {"series": "My C Won", "hand": 930, "euro": 14.8},
      {"series": "My C Won", "hand": 956, "euro": 13.9},
      {"series": "My C Won", "hand": 962, "euro": 12.2},
      {"series": "My C Won", "hand": 966, "euro": 11.5},
      {"series": "My C Won", "hand": 969, "euro": 10.9},
      {"series": "My C Won", "hand": 970, "euro": 20.4},
      {"series": "My C Won", "hand": 983, "euro": 20.3},
      {"series": "My C Won", "hand": 989, "euro": 21.9},
      {"series": "My C Won", "hand": 999, "euro": 23.3},
      {"series": "My C Won", "hand": 1003, "euro": 22.6},
      {"series": "My C Won", "hand": 1010, "euro": 23.0},
      {"series": "My C Won", "hand": 1030, "euro": 23.3},
      {"series": "My C Won", "hand": 1037, "euro": 25.3},
      {"series": "My C Won", "hand": 1044, "euro": 24.4},
      {"series": "My C Won", "hand": 1070, "euro": 26.8},
      {"series": "My C Won", "hand": 1073, "euro": 27.8},
      {"series": "My C Won", "hand": 1084, "euro": 36.5},
      {"series": "My C Won", "hand": 1086, "euro": 36.7},
      {"series": "My C Won", "hand": 1088, "euro": 36.6}
    ]
  },
  "layer": [
    {
      "data": {"values": [{}]},
      "mark": {"type": "text", "text": "PO●KER", "align": "right", "baseline": "middle", "font": "Liberation Sans", "fontSize": 36, "fontWeight": "bold", "color": "#dedede"},
      "encoding": {
        "x": {"datum": 545, "type": "quantitative"},
        "y": {"datum": 45.9, "type": "quantitative"}
      }
    },
    {
      "data": {"values": [{}]},
      "mark": {"type": "text", "text": "TRACKER", "align": "left", "baseline": "middle", "font": "Liberation Sans", "fontSize": 32, "color": "#ececec"},
      "encoding": {
        "x": {"datum": 546, "type": "quantitative"},
        "y": {"datum": 45.9, "type": "quantitative"}
      }
    },
    {
      "data": {"values": [{}]},
      "mark": {"type": "rect", "fillOpacity": 0, "stroke": "#8c8c8c", "strokeWidth": 1.5},
      "encoding": {
        "x": {"datum": 24.8, "type": "quantitative"},
        "x2": {"datum": 132.1},
        "y": {"datum": 47.55, "type": "quantitative"},
        "y2": {"datum": 34.76}
      }
    },
    {
      "data": {"values": [{}]},
      "mark": {
        "type": "text",
        "text": ["Hands: 1,088", "My C Won: €36.53", "My C All-In Adj: €30.04", "BB/100: 33.58", "All-In Adj BB/100: 27.61"],
        "align": "left",
        "baseline": "top",
        "lineHeight": 30,
        "font": "Lato",
        "fontSize": 17.5,
        "color": "#8c8c8c"
      },
      "encoding": {
        "x": {"datum": 26.4, "type": "quantitative"},
        "y": {"datum": 46.55, "type": "quantitative"}
      }
    },
    {
      "data": {"values": [{}]},
      "mark": {"type": "rule", "color": "#000000", "strokeWidth": 1},
      "encoding": {
        "y": {"datum": 0, "type": "quantitative"}
      }
    },
    {
      "data": {"name": "series"},
      "mark": {"type": "line", "interpolate": "step-after"},
      "encoding": {
        "x": {
          "field": "hand",
          "type": "quantitative",
          "scale": {"domain": [1, 1088], "nice": false, "zero": false},
          "axis": {
            "values": [1, 38, 75, 112, 149, 186, 223, 260, 297, 334, 371, 408, 445, 482, 519, 556, 593, 630, 667, 704, 741, 778, 815, 852, 889, 926, 963, 1000, 1037, 1088],
            "tickCount": 60,
            "format": ",d",
            "title": "Hands Played",
            "labelFlush": false,
            "labelOverlap": false,
            "labelPadding": 2,
            "titlePadding": 4
          }
        },
        "y": {
          "field": "euro",
          "type": "quantitative",
          "scale": {"domain": [-36, 50], "nice": false, "zero": false},
          "axis": {
            "orient": "right",
            "values": [-36, -34, -32, -30, -28, -26, -24, -22, -20, -18, -16, -14, -12, -10, -8, -6, -4, -2, 0, 2, 4, 6, 8, 10, 12, 14, 16, 18, 20, 22, 24, 26, 28, 30, 32, 34, 36, 38, 40, 42, 44, 46, 48, 50],
            "tickCount": 60,
            "labelExpr": "'€' + datum.value",
            "labelOverlap": false,
            "labelFlush": false,
            "labelBound": false,
            "title": "€",
            "titleAngle": 90,
            "titlePadding": 8,
            "labelPadding": 2
          }
        },
        "color": {
          "field": "series",
          "type": "nominal",
          "scale": {
            "domain": ["My C Won", "My C All-In Adj", "Money Won With Showdown", "Money Won Without Showdown", "My C Won + RB"],
            "range": ["#1a9a1a", "#b8b84e", "#10108c", "#9b0a0a", "#b044b0"]
          },
          "legend": {
            "orient": "none",
            "legendX": -1,
            "legendY": 1107,
            "direction": "horizontal",
            "title": null,
            "strokeColor": "#000000",
            "padding": 8,
            "symbolType": "square",
            "symbolSize": 90,
            "labelFont": "Liberation Sans",
            "labelFontSize": 12,
            "labelColor": "#000000",
            "labelOffset": 4,
            "labelLimit": 300,
            "columnPadding": 20,
            "encode": {
              "symbols": {
                "update": {
                  "fill": {"scale": "color", "field": "value"},
                  "stroke": {"value": "#000000"},
                  "strokeWidth": {"value": 1},
                  "opacity": {"value": 1}
                }
              }
            }
          }
        },
        "strokeWidth": {
          "field": "series",
          "type": "nominal",
          "scale": {
            "domain": ["My C Won", "My C All-In Adj", "Money Won With Showdown", "Money Won Without Showdown", "My C Won + RB"],
            "range": [2, 1.2, 2, 2, 1.2]
          },
          "legend": null
        }
      }
    }
  ],
  "config": {
    "view": {"stroke": "#000000", "strokeWidth": 1},
    "axis": {
      "labelFont": "Liberation Sans",
      "labelFontSize": 12,
      "labelColor": "#000000",
      "titleFont": "Liberation Sans",
      "titleFontSize": 12,
      "titleFontWeight": "normal",
      "titleColor": "#000000",
      "domainColor": "#000000",
      "tickColor": "#000000",
      "tickSize": 4,
      "gridColor": "#ebebeb",
      "gridWidth": 1
    }
  }
}
